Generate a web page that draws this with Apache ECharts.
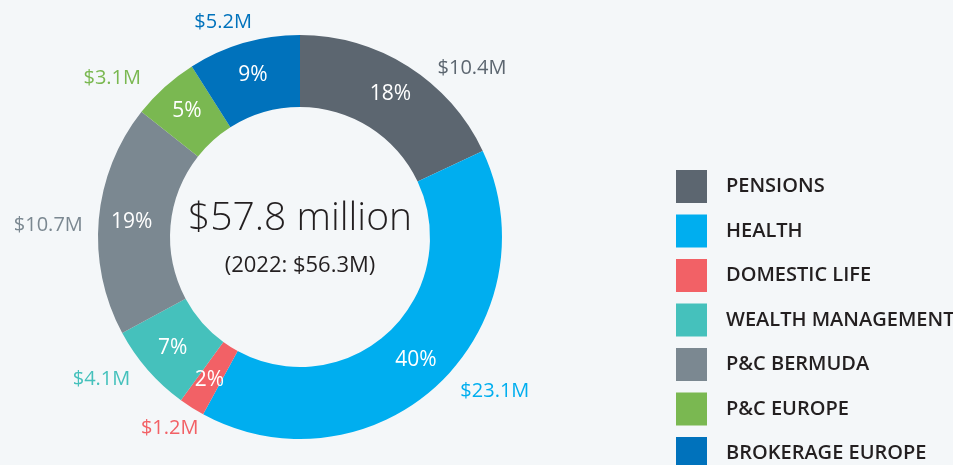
<!DOCTYPE html>
<html>
<head>
<meta charset="utf-8">
<style>
  html, body { margin: 0; padding: 0; background: #f4f7f9; }
  #chart { width: 953px; height: 465px; }
</style>
<script src="https://cdn.jsdelivr.net/npm/echarts@6/dist/echarts.min.js"></script>
</head>
<body>
<div id="chart"></div>
<script>
// Business lines and their revenue, $ millions
const segments = ['PENSIONS', 'HEALTH', 'DOMESTIC LIFE', 'WEALTH MANAGEMENT', 'P&C BERMUDA', 'P&C EUROPE', 'BROKERAGE EUROPE'];
const revenue = [10.4, 23.1, 1.2, 4.1, 10.7, 3.1, 5.2];
const segmentColors = ['#5c6670', '#00aeef', '#f26166', '#45c1bc', '#7b8891', '#7ab851', '#0072bc'];
const totalLabel = '$57.8 million';
const priorYearLabel = '(2022: $56.3M)';

const FONT = '"Open Sans", sans-serif';

// Small hand offsets for the outer value labels, so they sit clear of the ring
const labelNudge = [[9, 10], [0, 0], [27, 12], [5, 3], [9, 7], [-2, -1], [26, -11]];

const chart = echarts.init(document.getElementById('chart'), null, { renderer: 'canvas' });

const ringData = segments.map((name, i) => ({
  name,
  value: revenue[i],
  itemStyle: { color: segmentColors[i] }
}));

const outerLabelData = segments.map((name, i) => ({
  name,
  value: revenue[i],
  itemStyle: { color: 'rgba(0,0,0,0)' },
  label: { color: segmentColors[i] }
}));

// Shared legend look; the list runs past the bottom edge, so the last entry
// gets its own legend block placed under the others.
const legendBase = {
  orient: 'vertical',
  left: 676,
  padding: 0,
  itemWidth: 31,
  itemHeight: 33,
  itemGap: 11.5,
  icon: 'rect',
  selectedMode: false,
  textStyle: {
    fontFamily: FONT,
    fontSize: 20,
    fontWeight: 600,
    color: '#231f20',
    padding: [0, 0, 0, 14]
  }
};

chart.setOption({
  backgroundColor: '#f4f7f9',
  animation: false,
  legend: [
    Object.assign({}, legendBase, { top: 170, data: segments.slice(0, 6) }),
    Object.assign({}, legendBase, { top: 437, data: segments.slice(6) })
  ],
  graphic: [
    {
      type: 'text',
      x: 300,
      y: 219,
      style: {
        text: totalLabel,
        fontFamily: FONT,
        fontSize: 39,
        fontWeight: 300,
        fill: '#231f20',
        align: 'center',
        verticalAlign: 'middle'
      }
    },
    {
      type: 'text',
      x: 300,
      y: 266,
      style: {
        text: priorYearLabel,
        fontFamily: FONT,
        fontSize: 22,
        fill: '#231f20',
        align: 'center',
        verticalAlign: 'middle'
      }
    }
  ],
  series: [
    {
      type: 'pie',
      center: [300, 237],
      radius: [130, 202],
      startAngle: 90,
      clockwise: true,
      percentPrecision: 0,
      avoidLabelOverlap: false,
      emphasis: { disabled: true },
      itemStyle: { borderWidth: 0 },
      label: {
        position: 'inside',
        formatter: '{d}%',
        color: '#ffffff',
        fontFamily: FONT,
        fontSize: 21
      },
      labelLine: { show: false },
      data: ringData
    },
    {
      type: 'pie',
      center: [300, 237],
      radius: [130, 202],
      startAngle: 90,
      clockwise: true,
      silent: true,
      legendHoverLink: false,
      avoidLabelOverlap: false,
      emphasis: { disabled: true },
      label: {
        position: 'outside',
        formatter: (p) => '$' + p.value.toFixed(1) + 'M',
        fontFamily: FONT,
        fontSize: 20,
        distanceToLabelLine: 5
      },
      labelLine: { show: false, length: 10, length2: 10 },
      labelLayout: (p) => ({ dx: labelNudge[p.dataIndex][0], dy: labelNudge[p.dataIndex][1] }),
      data: outerLabelData
    }
  ]
});
</script>
</body>
</html>
